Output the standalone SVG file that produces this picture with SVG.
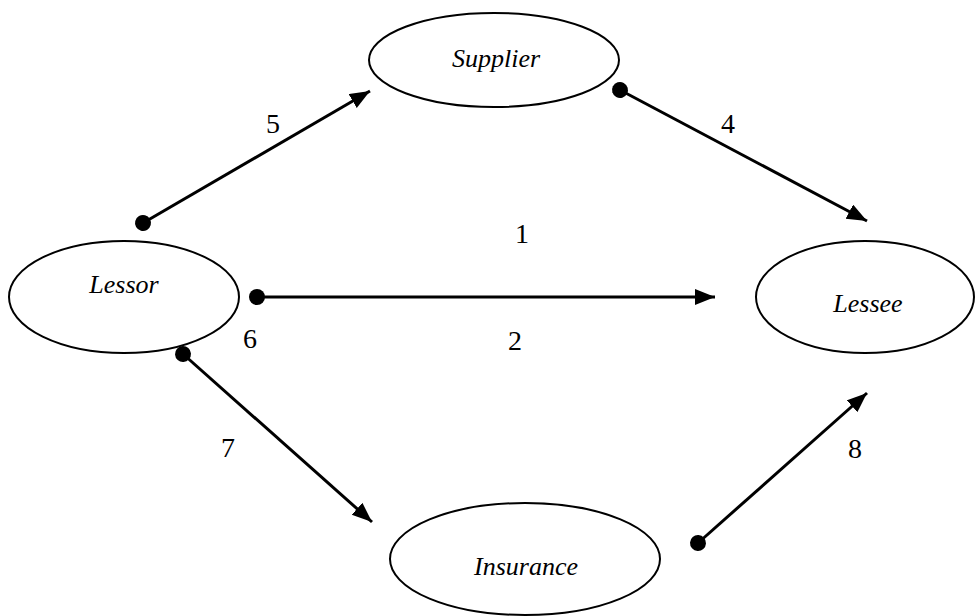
<svg xmlns="http://www.w3.org/2000/svg" width="975" height="616" viewBox="0 0 975 616">
<style>
.node{fill:#fff;stroke:#000;stroke-width:2}
.lbl{font-family:"Liberation Serif",serif;font-style:italic;font-size:26px;fill:#000;text-anchor:middle}
.num{font-family:"Liberation Serif",serif;font-size:28px;fill:#000;text-anchor:middle}
.edge{stroke:#000;stroke-width:3;fill:none;marker-start:url(#dot);marker-end:url(#arr)}
</style>
<defs>
<marker id="arr" markerUnits="userSpaceOnUse" markerWidth="22" markerHeight="18" refX="20" refY="8" orient="auto"><path d="M0,0 L20,8 L0,16 z" fill="#000"/></marker>
<marker id="dot" markerUnits="userSpaceOnUse" markerWidth="18" markerHeight="18" refX="9" refY="9" orient="auto"><circle cx="9" cy="9" r="8" fill="#000"/></marker>
</defs>
<rect width="975" height="616" fill="#fff"/>
<g id="supplier"><ellipse class="node" cx="494" cy="60" rx="125" ry="47"/><text class="lbl" x="496" y="67">Supplier</text></g>
<g id="lessor"><ellipse class="node" cx="124" cy="297" rx="115" ry="56"/><text class="lbl" x="124" y="293">Lessor</text></g>
<g id="lessee"><ellipse class="node" cx="865" cy="297" rx="109" ry="56"/><text class="lbl" x="868" y="312">Lessee</text></g>
<g id="insurance"><ellipse class="node" cx="525" cy="559" rx="135" ry="56"/><text class="lbl" x="526" y="575">Insurance</text></g>
<g id="connectors">
<line class="edge" x1="143" y1="223" x2="370" y2="91"/>
<line class="edge" x1="620" y1="90" x2="867" y2="221"/>
<line class="edge" x1="257" y1="297" x2="715" y2="297"/>
<line class="edge" x1="183" y1="354" x2="372" y2="522"/>
<line class="edge" x1="698" y1="543" x2="867" y2="393"/>
<text class="num" x="273" y="133">5</text>
<text class="num" x="728" y="133">4</text>
<text class="num" x="522" y="243">1</text>
<text class="num" x="515" y="350">2</text>
<text class="num" x="250" y="348">6</text>
<text class="num" x="228" y="457">7</text>
<text class="num" x="855" y="458">8</text>
</g>
</svg>
